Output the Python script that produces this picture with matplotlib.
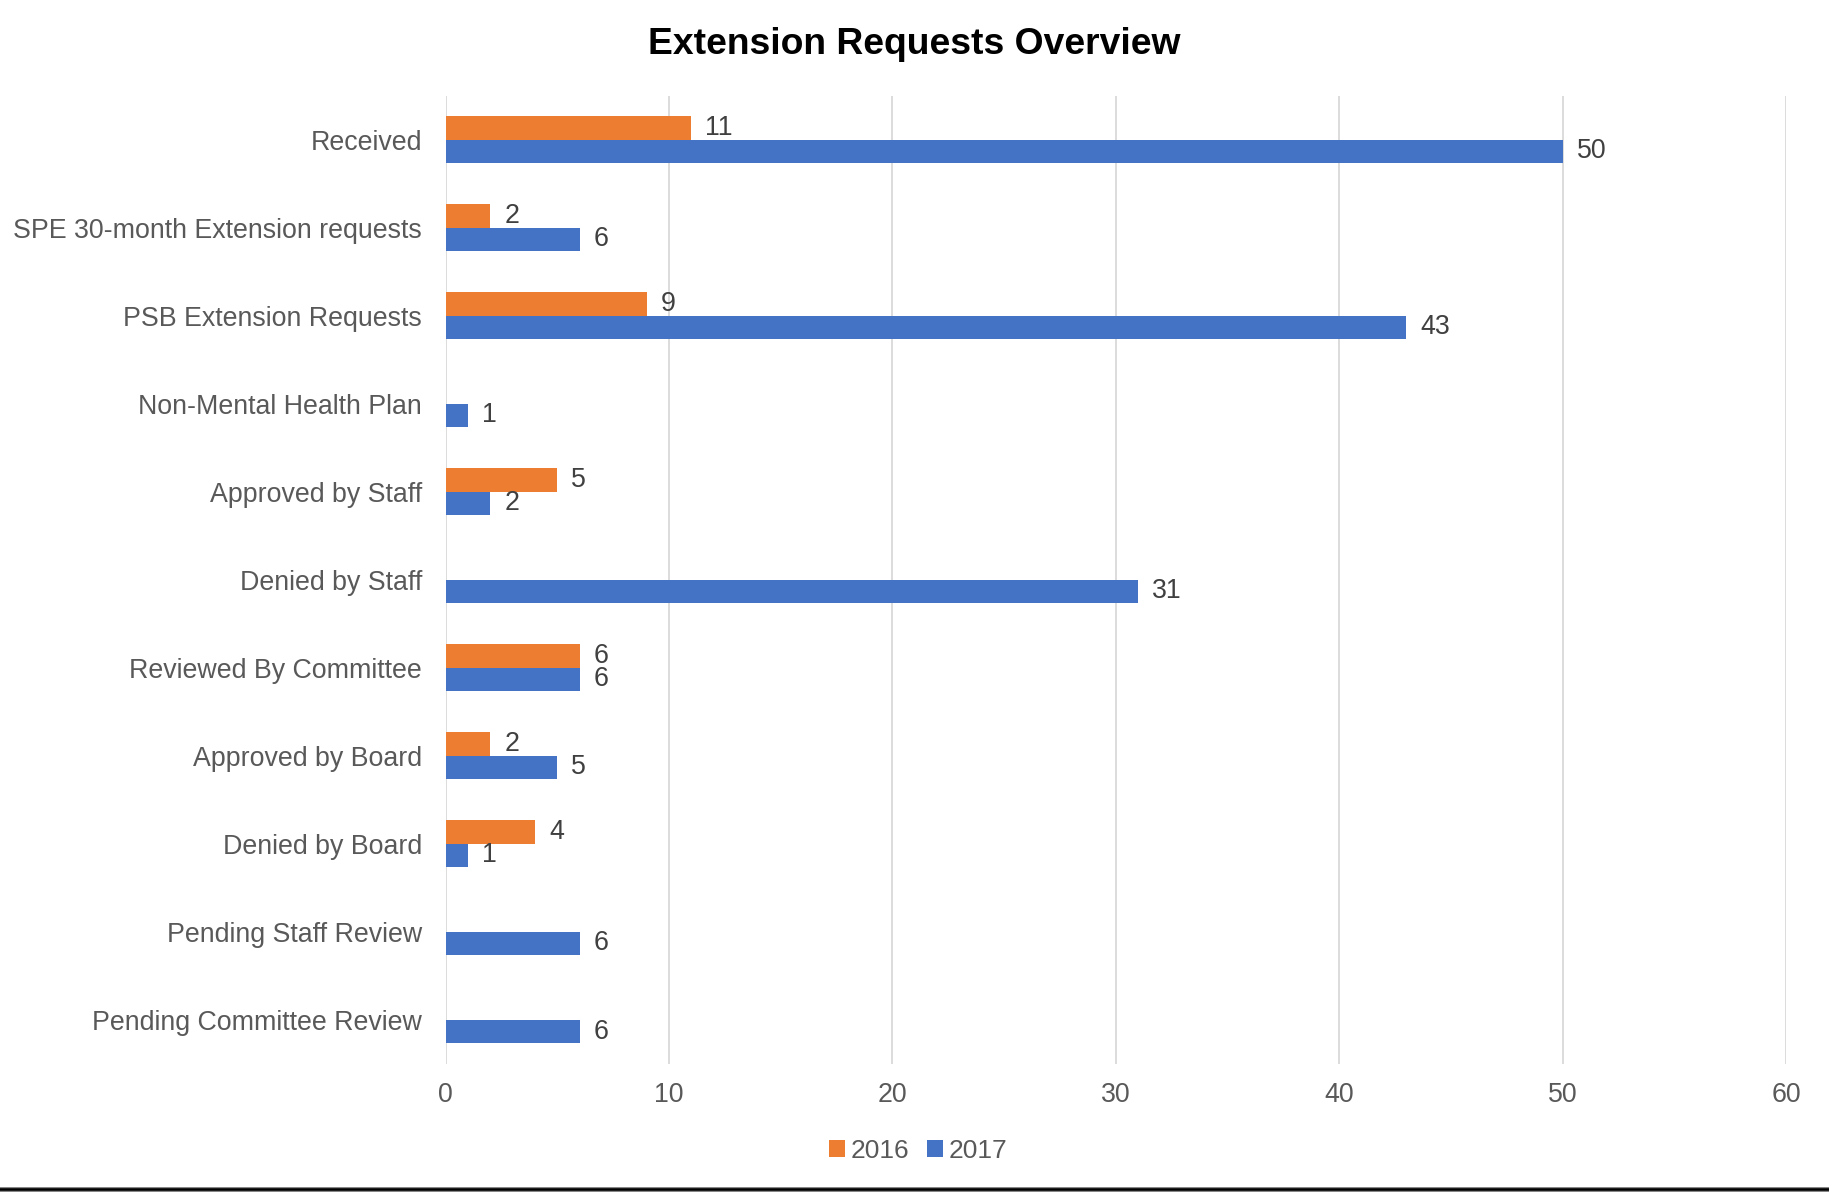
import numpy as np
import matplotlib.pyplot as plt
from matplotlib.lines import Line2D

plt.rcParams['font.family'] = ['Liberation Sans', 'DejaVu Sans']

categories = ["Received", "SPE 30-month Extension requests", "PSB Extension Requests",
              "Non-Mental Health Plan", "Approved by Staff", "Denied by Staff",
              "Reviewed By Committee", "Approved by Board", "Denied by Board",
              "Pending Staff Review", "Pending Committee Review"]
vals_2016 = [11, 2, 9, 0, 5, 0, 6, 2, 4, 0, 0]
vals_2017 = [50, 6, 43, 1, 2, 31, 6, 5, 1, 6, 6]
xticks = [0, 10, 20, 30, 40, 50, 60]

c16 = "#ED7D31"
c17 = "#4472C4"
fs = 19.3

fig = plt.figure(figsize=(18.29, 11.94), dpi=100)
ax = fig.add_axes([0.2437, 0.109, 0.7328, 0.811])

y = np.arange(len(categories))
h = 0.265
b16 = ax.barh(y - h/2, vals_2016, height=h, color=c16, label="2016", zorder=3)
b17 = ax.barh(y + h/2, vals_2017, height=h, color=c17, label="2017", zorder=3)

# labels only where there is a value
for bars, vals in [(b16, vals_2016), (b17, vals_2017)]:
    for bar, v in zip(bars, vals):
        if v > 0:
            ax.annotate(str(v), (v, bar.get_y() + bar.get_height()/2),
                        xytext=(10, 0), textcoords="offset points",
                        va="center", ha="left", fontsize=fs, color="#404040")

ax.set_xlim(0, 60)
ax.set_ylim(len(categories) - 0.5, -0.5)
ax.set_xticks(xticks)
ax.set_yticks(y)
ax.set_yticklabels(categories, va="center_baseline")
ax.tick_params(axis="both", length=0, labelsize=fs, labelcolor="#595959")
ax.tick_params(axis="x", pad=13)
ax.tick_params(axis="y", pad=17)
ax.grid(axis="x", color="#D9D9D9", linewidth=1.3, zorder=0)
for s in ax.spines.values():
    s.set_visible(False)

fig.text(0.5, 0.963, "Extension Requests Overview", fontsize=26.8,
         fontweight="bold", ha="center", va="center")

fig.legend(handles=[b16, b17], labels=["2016", "2017"], loc="center",
           bbox_to_anchor=(0.502, 0.036), ncol=2, frameon=False,
           fontsize=19, labelcolor="#595959", handlelength=0.6,
           handleheight=0.6, handletextpad=0.2, columnspacing=0.7)

fig.add_artist(Line2D([0, 1], [0.0045, 0.0045], color="#7f7f7f", linewidth=3.5,
                      transform=fig.transFigure))
fig.add_artist(Line2D([0, 1], [0.0045, 0.0045], color="black", linewidth=1.8,
                      transform=fig.transFigure))

fig.savefig("out.png", dpi=100)
